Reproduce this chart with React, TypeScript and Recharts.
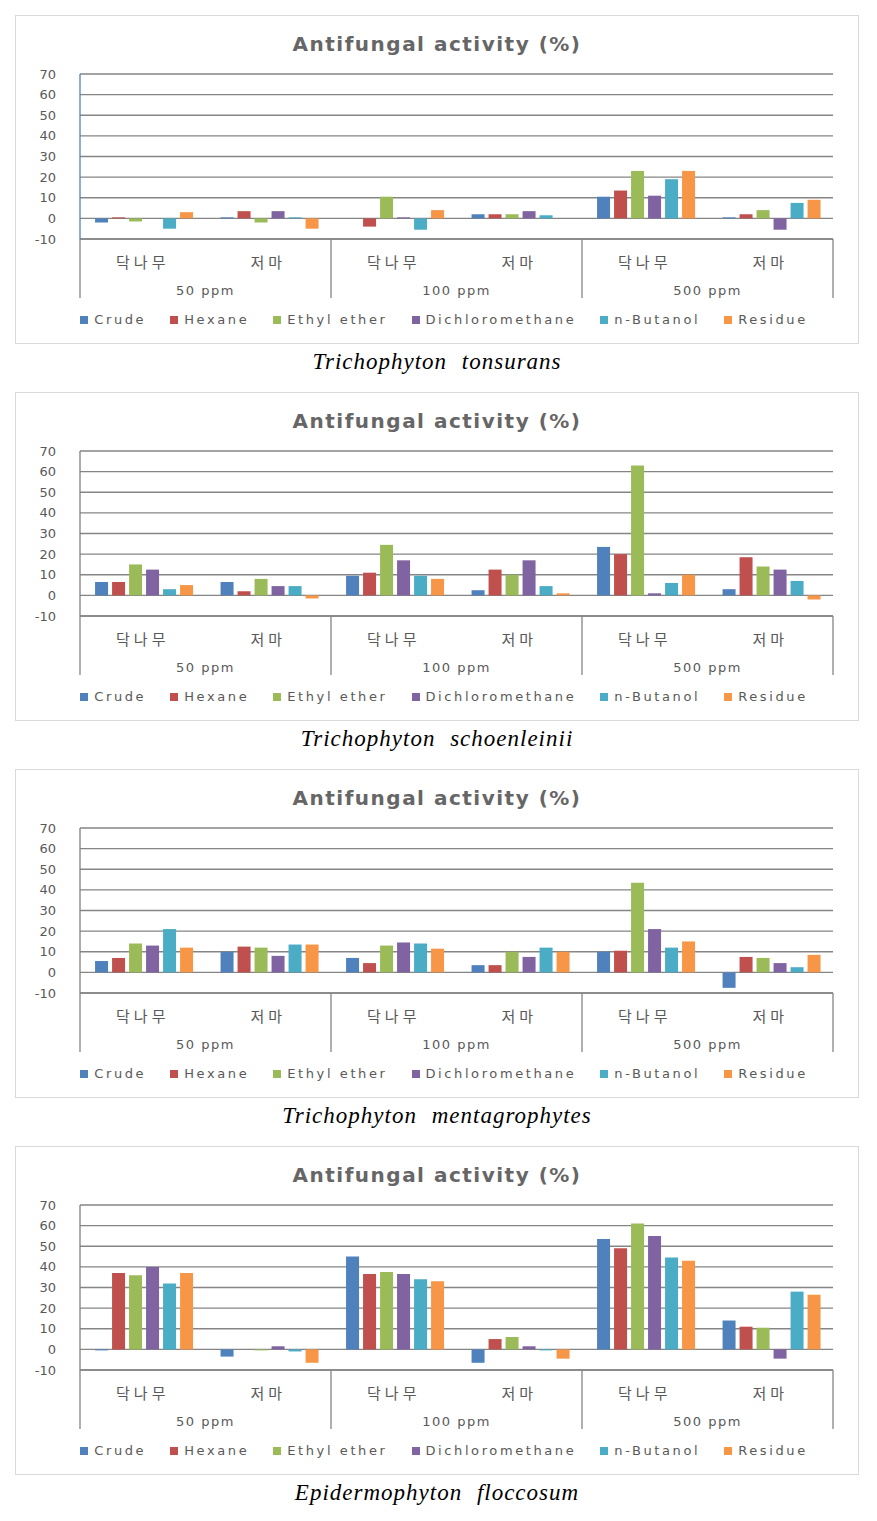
import { BarChart, Bar, XAxis, YAxis, CartesianGrid, Legend } from 'recharts';

// categories
const CATEGORY_GROUPS = ['50 ppm', '50 ppm', '100 ppm', '100 ppm', '500 ppm', '500 ppm'];
const CATEGORY_PLANTS = ['닥나무', '저마', '닥나무', '저마', '닥나무', '저마'];
const Y_TICKS = [-10, 0, 10, 20, 30, 40, 50, 60, 70];

const SERIES_KEYS = ['crude', 'hexane', 'ethyl', 'dichloro', 'butanol', 'residue'];
const SERIES_NAMES = ['Crude', 'Hexane', 'Ethyl ether', 'Dichloromethane', 'n-Butanol', 'Residue'];
const COLORS = ['#4F81BD', '#C0504D', '#9BBB59', '#8064A2', '#4BACC6', '#F79646'];

// Trichophyton tonsurans
const tonsuransCrude = [-2, 0.5, 0, 2, 10.5, 0.5];
const tonsuransHexane = [0.5, 3.5, -4, 2, 13.5, 2];
const tonsuransEthyl = [-1.5, -2, 10.5, 2, 23, 4];
const tonsuransDichloro = [0, 3.5, 0.5, 3.5, 11, -5.5];
const tonsuransButanol = [-5, 0.5, -5.5, 1.5, 19, 7.5];
const tonsuransResidue = [3, -5, 4, 0, 23, 9];

// Trichophyton schoenleinii
const schoenleiniiCrude = [6.5, 6.5, 9.5, 2.5, 23.5, 3];
const schoenleiniiHexane = [6.5, 2, 11, 12.5, 20, 18.5];
const schoenleiniiEthyl = [15, 8, 24.5, 10, 63, 14];
const schoenleiniiDichloro = [12.5, 4.5, 17, 17, 1, 12.5];
const schoenleiniiButanol = [3, 4.5, 9.5, 4.5, 6, 7];
const schoenleiniiResidue = [5, -1.5, 8, 1, 10, -2];

// Trichophyton mentagrophytes
const mentagrophytesCrude = [5.5, 10, 7, 3.5, 10, -7.5];
const mentagrophytesHexane = [7, 12.5, 4.5, 3.5, 10.5, 7.5];
const mentagrophytesEthyl = [14, 12, 13, 10, 43.5, 7];
const mentagrophytesDichloro = [13, 8, 14.5, 7.5, 21, 4.5];
const mentagrophytesButanol = [21, 13.5, 14, 12, 12, 2.5];
const mentagrophytesResidue = [12, 13.5, 11.5, 10, 15, 8.5];

// Epidermophyton floccosum
const floccosumCrude = [-0.5, -3.5, 45, -6.5, 53.5, 14];
const floccosumHexane = [37, 0, 36.5, 5, 49, 11];
const floccosumEthyl = [36, -0.5, 37.5, 6, 61, 10.5];
const floccosumDichloro = [40, 1.5, 36.5, 1.5, 55, -4.5];
const floccosumButanol = [32, -1, 34, -0.5, 44.5, 28];
const floccosumResidue = [37, -6.5, 33, -4.5, 43, 26.5];

const PANELS = [
  {
    caption: 'Trichophyton tonsurans',
    axisColor: '#4F81BD',
    values: [tonsuransCrude, tonsuransHexane, tonsuransEthyl, tonsuransDichloro, tonsuransButanol, tonsuransResidue],
  },
  {
    caption: 'Trichophyton schoenleinii',
    axisColor: '#7f7f7f',
    values: [schoenleiniiCrude, schoenleiniiHexane, schoenleiniiEthyl, schoenleiniiDichloro, schoenleiniiButanol, schoenleiniiResidue],
  },
  {
    caption: 'Trichophyton mentagrophytes',
    axisColor: '#7f7f7f',
    values: [mentagrophytesCrude, mentagrophytesHexane, mentagrophytesEthyl, mentagrophytesDichloro, mentagrophytesButanol, mentagrophytesResidue],
  },
  {
    caption: 'Epidermophyton floccosum',
    axisColor: '#7f7f7f',
    values: [floccosumCrude, floccosumHexane, floccosumEthyl, floccosumDichloro, floccosumButanol, floccosumResidue],
  },
];

const CHART_W = 844;
const CHART_H = 329;
const MARGIN = { top: 59, right: 26, bottom: 45, left: 0 };
const Y_AXIS_W = 65;
const X_AXIS_H = 60;
const PLOT_W = CHART_W - MARGIN.left - MARGIN.right - Y_AXIS_W;
const BAND = PLOT_W / CATEGORY_PLANTS.length;

const TEXT_GRAY = '#595959';
const LINE_GRAY = '#858585';
const SANS = '"DejaVu Sans", Verdana, sans-serif';

const buildRows = (values: number[][]) =>
  CATEGORY_PLANTS.map((plant, i) => {
    const row: Record<string, string | number> = { cat: `${CATEGORY_GROUPS[i]} ${plant} ${i}` };
    SERIES_KEYS.forEach((key, j) => {
      row[key] = values[j][i];
    });
    return row;
  });

const CategoryTick = (props: any) => {
  const { x, y, payload } = props;
  const i = props.index ?? payload.index;
  const half = BAND / 2;
  const last = CATEGORY_PLANTS.length - 1;
  return (
    <g>
      <text
        x={x}
        y={y + 22}
        textAnchor="middle"
        dominantBaseline="central"
        fill={TEXT_GRAY}
        fontSize={15}
        letterSpacing={4}
        fontFamily='"Noto Sans CJK KR", sans-serif'
      >
        {CATEGORY_PLANTS[i]}
      </text>
      {i % 2 === 0 && (
        <>
          <line x1={x - half} x2={x - half} y1={y} y2={y + 59} stroke={LINE_GRAY} strokeWidth={1.3} />
          <text
            x={x + half}
            y={y + 51}
            textAnchor="middle"
            dominantBaseline="central"
            fill={TEXT_GRAY}
            fontSize={13}
            letterSpacing={1.5}
            fontFamily={SANS}
          >
            {CATEGORY_GROUPS[i]}
          </text>
        </>
      )}
      {i === last && <line x1={x + half} x2={x + half} y1={y} y2={y + 59} stroke={LINE_GRAY} strokeWidth={1.3} />}
    </g>
  );
};

const Panel = ({ caption, axisColor, values }: { caption: string; axisColor: string; values: number[][] }) => {
  const rows = buildRows(values);
  return (
    <div style={{ marginBottom: 12 }}>
      <div style={{ position: 'relative', width: CHART_W, height: CHART_H, outline: '1px solid #d9d9d9', outlineOffset: -1 }}>
        <div
          style={{
            position: 'absolute',
            top: 17,
            left: 0,
            width: CHART_W,
            textAlign: 'center',
            fontFamily: SANS,
            fontSize: 20,
            fontWeight: 'bold',
            color: '#666666',
            letterSpacing: 1.5,
            lineHeight: '24px',
          }}
        >
          Antifungal activity (%)
        </div>
        <BarChart width={CHART_W} height={CHART_H} data={rows} margin={MARGIN} barGap={4} barCategoryGap="12%">
          <CartesianGrid vertical={false} stroke={LINE_GRAY} strokeWidth={1.3} />
          <XAxis
            dataKey="cat"
            height={X_AXIS_H}
            interval={0}
            tickSize={0}
            tickMargin={0}
            tickLine={false}
            axisLine={{ stroke: LINE_GRAY, strokeWidth: 1.3 }}
            tick={<CategoryTick />}
          />
          <YAxis
            width={Y_AXIS_W}
            domain={[-10, 70]}
            ticks={Y_TICKS}
            interval={0}
            tickLine={false}
            tickMargin={18}
            axisLine={{ stroke: axisColor, strokeWidth: 1.3 }}
            tick={{ fill: TEXT_GRAY, fontSize: 13, fontFamily: SANS }}
          />
          <Legend
            verticalAlign="middle"
            align="center"
            iconType="square"
            iconSize={8}
            itemSorter={(item: any) => SERIES_NAMES.indexOf(item.value)}
            wrapperStyle={{ top: 294, left: 19, width: CHART_W, fontFamily: SANS }}
            formatter={(value: string) => (
              <span style={{ color: TEXT_GRAY, fontSize: 13, letterSpacing: 2.6, marginLeft: 2, marginRight: 14 }}>
                {value}
              </span>
            )}
          />
          {SERIES_KEYS.map((key, j) => (
            <Bar key={key} dataKey={key} name={SERIES_NAMES[j]} fill={COLORS[j]} isAnimationActive={false} />
          ))}
        </BarChart>
      </div>
      <div
        style={{
          height: 36,
          lineHeight: '36px',
          textAlign: 'center',
          width: CHART_W,
          fontFamily: '"Liberation Serif", serif',
          fontStyle: 'italic',
          fontSize: 23,
          letterSpacing: 1,
          wordSpacing: 8,
          color: '#000',
        }}
      >
        {caption}
      </div>
    </div>
  );
};

export default function App() {
  return (
    <div style={{ marginLeft: 7, marginTop: 7 }}>
      {PANELS.map((p) => (
        <Panel key={p.caption} caption={p.caption} axisColor={p.axisColor} values={p.values} />
      ))}
    </div>
  );
}
